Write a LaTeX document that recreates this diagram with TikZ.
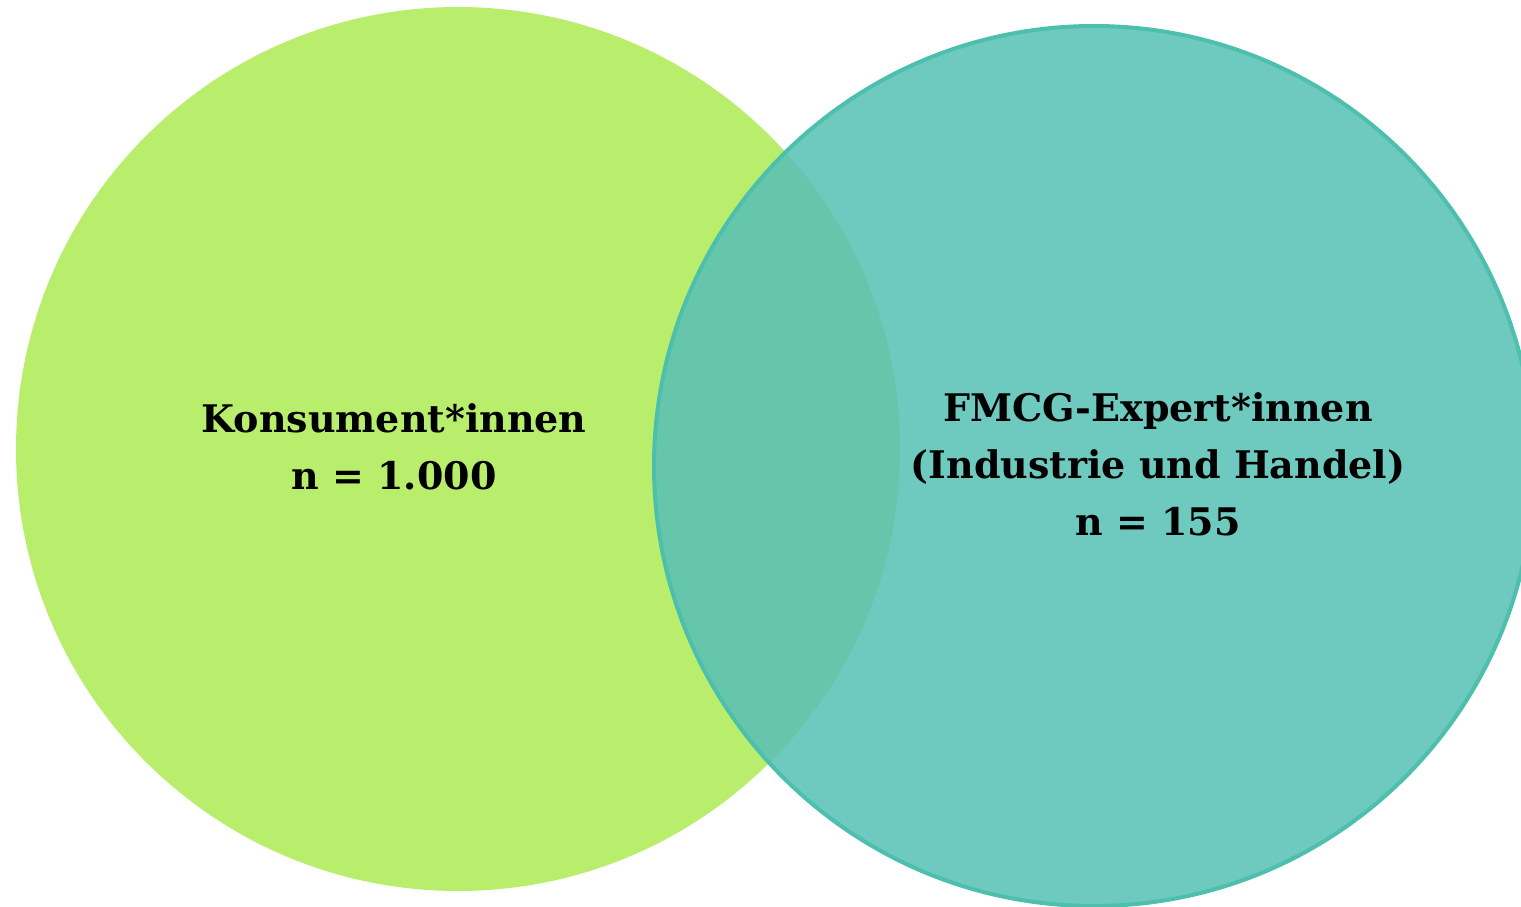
\documentclass[tikz,border=0pt]{standalone}
\usepackage{fontspec}
\setmainfont{DejaVu Serif}
\definecolor{limegreen}{RGB}{184,238,108}
\definecolor{tealfill}{RGB}{90,193,181}
\definecolor{tealline}{RGB}{76,192,172}
\tikzset{
  setlabel/.style={align=center, text=black, font=\fontsize{38}{57}\selectfont\bfseries, inner sep=0pt}
}
\begin{document}
\begin{tikzpicture}[x=1pt,y=-1pt]
\useasboundingbox (0,0) rectangle (1521,907);
\fill[limegreen] (458,449) circle (442);
\draw[fill=tealfill, fill opacity=0.88, draw=tealline, line width=4pt] (1094,466) circle (440);
\node[setlabel] (cons) at (394,447) {Konsument*innen\\n = 1.000};
\node[setlabel] (exp) at (1158,464) {FMCG-Expert*innen\\(Industrie und Handel)\\n = 155};
\end{tikzpicture}
\end{document}
